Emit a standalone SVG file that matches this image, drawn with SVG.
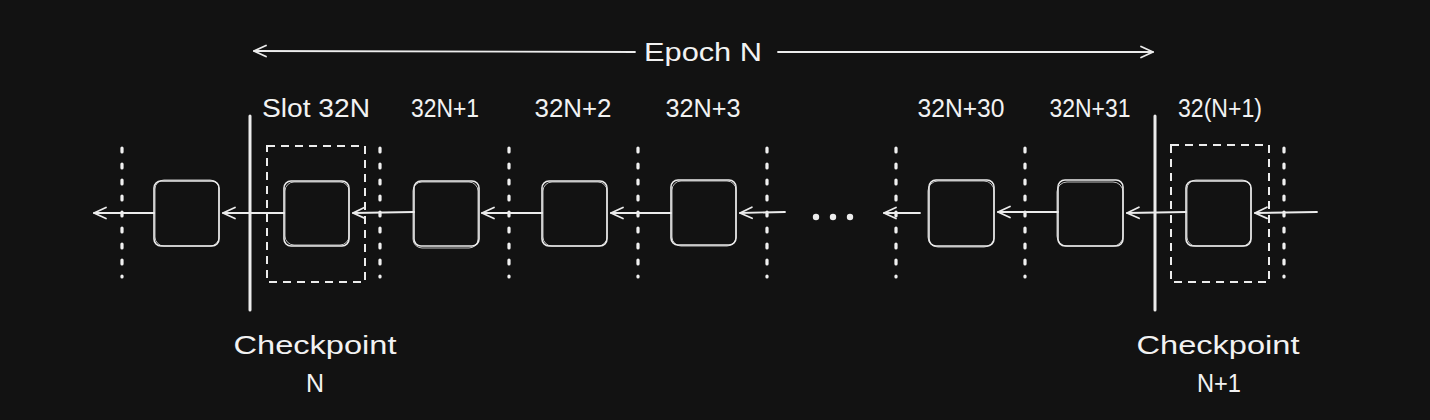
<svg xmlns="http://www.w3.org/2000/svg" width="1430" height="420" viewBox="0 0 1430 420">
<style>
.bg{fill:#121212}
.box{fill:none;stroke:#ececec;stroke-width:1.6}
.box2{fill:none;stroke:#ececec;stroke-width:1;opacity:.8}
.link{fill:none;stroke:#ececec;stroke-width:1.8;stroke-linecap:round}
.dots{fill:none;stroke:#f0f0f0;stroke-width:3.2;stroke-dasharray:4 12;stroke-linecap:round}
.cut{fill:none;stroke:#ececec;stroke-width:3;stroke-linecap:round}
.frame{fill:none;stroke:#ececec;stroke-width:2;stroke-dasharray:8 6}
text{fill:#f2f2f2;font-family:"Liberation Sans",sans-serif;font-size:25px;text-anchor:middle}
</style>
<defs>
<marker id="ah" viewBox="-14 -8 16 16" markerWidth="16" markerHeight="16" refX="0" refY="0" orient="auto" markerUnits="userSpaceOnUse">
<path d="M-12,-5.5 L0,0 L-12,5.5" fill="none" stroke="#ececec" stroke-width="1.8" stroke-linecap="round" stroke-linejoin="round"/>
</marker>
</defs>
<rect class="bg" x="0" y="0" width="1430" height="420"/>

<g id="epoch">
<line class="link" x1="635" y1="52" x2="254" y2="51" marker-end="url(#ah)"/>
<line class="link" x1="778" y1="52" x2="1153" y2="52" marker-end="url(#ah)"/>
<text x="703" y="61" font-size="27" textLength="118" lengthAdjust="spacingAndGlyphs">Epoch N</text>
</g>

<g id="separators">
<line class="dots" x1="122" y1="148" x2="122" y2="277"/>
<line class="dots" x1="380" y1="148" x2="380" y2="277"/>
<line class="dots" x1="509" y1="148" x2="509" y2="277"/>
<line class="dots" x1="638" y1="148" x2="638" y2="277"/>
<line class="dots" x1="767" y1="148" x2="767" y2="277"/>
<line class="dots" x1="896" y1="148" x2="896" y2="277"/>
<line class="dots" x1="1025" y1="148" x2="1025" y2="277"/>
<line class="dots" x1="1284" y1="148" x2="1284" y2="277"/>
</g>

<g id="checkpoint-n">
<line class="cut" x1="250" y1="116" x2="250" y2="310"/>
<rect class="frame" x="267" y="146" width="98" height="136"/>
<text x="315" y="354" font-size="28" textLength="163" lengthAdjust="spacingAndGlyphs">Checkpoint</text>
<text x="315" y="392" font-size="26">N</text>
</g>

<g id="checkpoint-n1">
<line class="cut" x1="1155" y1="116" x2="1155" y2="310"/>
<rect class="frame" x="1171" y="145" width="98" height="137"/>
<text x="1218" y="354" font-size="28" textLength="163" lengthAdjust="spacingAndGlyphs">Checkpoint</text>
<text x="1219" y="392" font-size="26" textLength="44" lengthAdjust="spacingAndGlyphs">N+1</text>
</g>

<g id="labels">
<text x="316" y="117" textLength="108" lengthAdjust="spacingAndGlyphs">Slot 32N</text>
<text x="445" y="117" textLength="68" lengthAdjust="spacingAndGlyphs">32N+1</text>
<text x="573" y="117" textLength="77" lengthAdjust="spacingAndGlyphs">32N+2</text>
<text x="703" y="117" textLength="75" lengthAdjust="spacingAndGlyphs">32N+3</text>
<text x="961" y="117" textLength="87" lengthAdjust="spacingAndGlyphs">32N+30</text>
<text x="1090" y="117" textLength="81" lengthAdjust="spacingAndGlyphs">32N+31</text>
<text x="1220" y="117" textLength="84" lengthAdjust="spacingAndGlyphs">32(N+1)</text>
</g>

<g id="block-prev"><rect class="box" x="154" y="181" width="65" height="65" rx="7"/><rect class="box2" x="155" y="180" width="64" height="66" rx="9"/></g>
<g id="block-32N"><rect class="box" x="284" y="181" width="65" height="65" rx="7"/><rect class="box2" x="285" y="182" width="64" height="63" rx="9"/></g>
<g id="block-32N1"><rect class="box" x="414" y="181" width="65" height="65" rx="7"/><rect class="box2" x="413" y="182" width="65" height="66" rx="9"/></g>
<g id="block-32N2"><rect class="box" x="542" y="181" width="65" height="65" rx="7"/><rect class="box2" x="543" y="182" width="64" height="64" rx="9"/></g>
<g id="block-32N3"><rect class="box" x="671" y="180" width="65" height="65" rx="7"/><rect class="box2" x="672" y="181" width="64" height="65" rx="9"/></g>
<g id="ellipsis"><circle cx="816" cy="217" r="3.2" fill="#ececec"/><circle cx="833" cy="217" r="3.2" fill="#ececec"/><circle cx="850" cy="217" r="3.2" fill="#ececec"/></g>
<g id="block-32N30"><rect class="box" x="929" y="180" width="65" height="66" rx="7"/><rect class="box2" x="928" y="181" width="66" height="66" rx="10"/></g>
<g id="block-32N31"><rect class="box" x="1058" y="180" width="65" height="66" rx="7"/><rect class="box2" x="1057" y="182" width="66" height="64" rx="10"/></g>
<g id="block-32N1x"><rect class="box" x="1186" y="181" width="65" height="65" rx="7"/><rect class="box2" x="1187" y="180" width="64" height="66" rx="9"/></g>

<g id="connectors">
<line class="link" x1="154" y1="213" x2="94" y2="213" marker-end="url(#ah)"/>
<line class="link" x1="284" y1="213" x2="223" y2="213" marker-end="url(#ah)"/>
<line class="link" x1="414" y1="212" x2="353" y2="213" marker-end="url(#ah)"/>
<line class="link" x1="542" y1="213" x2="482" y2="213" marker-end="url(#ah)"/>
<line class="link" x1="671" y1="213" x2="611" y2="213" marker-end="url(#ah)"/>
<line class="link" x1="785" y1="212" x2="740" y2="213" marker-end="url(#ah)"/>
<line class="link" x1="920" y1="213" x2="884" y2="213" marker-end="url(#ah)"/>
<line class="link" x1="1058" y1="212" x2="998" y2="212" marker-end="url(#ah)"/>
<line class="link" x1="1186" y1="212" x2="1127" y2="213" marker-end="url(#ah)"/>
<line class="link" x1="1317" y1="212" x2="1255" y2="213" marker-end="url(#ah)"/>
</g>
</svg>
